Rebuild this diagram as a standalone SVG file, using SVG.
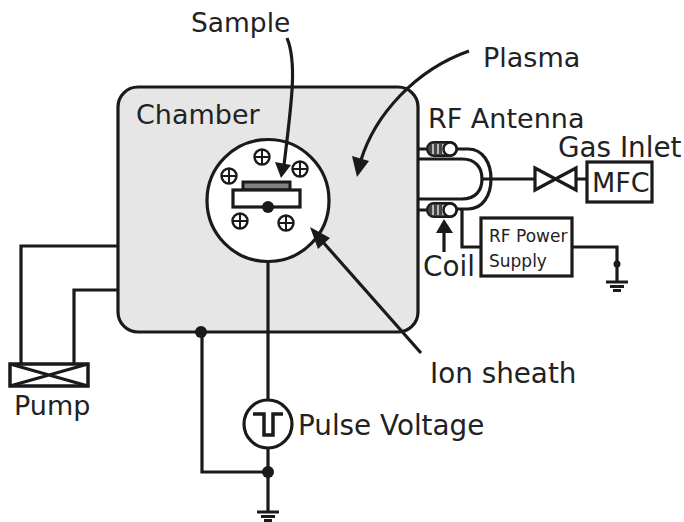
<svg xmlns="http://www.w3.org/2000/svg" width="684" height="522" viewBox="0 0 684 522">
<style>
.t{font-family:"DejaVu Sans",sans-serif;font-size:27px;fill:#222}
.w{font-size:27.800px}
.s{font-family:"DejaVu Sans",sans-serif;font-size:17px;fill:#222}
.l{fill:none;stroke:#1a1a1a;stroke-width:3.200}
.b{fill:#fff;stroke:#1a1a1a;stroke-width:3.200}
.f{fill:#1a1a1a;stroke:none}
.p{fill:#fff;stroke:#1a1a1a;stroke-width:2.400}
.c{fill:none;stroke:#1a1a1a;stroke-width:2}
</style>
<defs>
<g id="plus"><circle r="7.500" class="p"/><path d="M-7 0H7M0-7V7" class="c"/></g>
<g id="gnd"><path d="M-11 0H11" stroke="#1a1a1a" stroke-width="3"/><path d="M-7 4.500H7" stroke="#1a1a1a" stroke-width="3"/><path d="M-4 8.500H4" stroke="#1a1a1a" stroke-width="3"/></g>
</defs>
<g id="chamber"><rect x="118" y="87" width="300" height="245" rx="20" fill="#e6e6e6" stroke="#1a1a1a" stroke-width="3.200"/>
<text class="t" x="136" y="124">Chamber</text></g>
<g id="connectors">
<path class="l" d="M118 246H21V364M118 290H74V364"/>
<path class="l" d="M268 207V403M268 448V512M202 332V472H268"/>
<circle class="f" cx="201" cy="332" r="6"/><circle class="f" cx="268" cy="472" r="6"/>
<path class="l" d="M418 149H427M418 210H427"/>
<path class="l" d="M457 149H468C483 149 491 163 491 179C491 195 483 209 468 209H457"/>
<path class="l" d="M418 159H462C476 159 482 168 482 179C482 190 476 199 462 199H418"/>
<path class="l" d="M482 179H535M576 179H587"/>
<path class="l" d="M462 209V247H481M572 247H617V282"/>
<circle class="f" cx="617" cy="264" r="3.500"/>
<path d="M444 252V230" stroke="#1a1a1a" stroke-width="3.200"/>
<path class="f" d="M444 219L453 233H436Z"/>
</g>
<g id="gnd1"><use href="#gnd" x="268" y="512"/></g>
<g id="gnd2"><use href="#gnd" x="617" y="282"/></g>
<g id="pump"><rect x="10" y="364" width="78" height="22" fill="#fff" stroke="#1a1a1a" stroke-width="3.500"/><path class="l" d="M10 364L88 386M10 386L88 364"/>
<text class="t" x="14" y="415">Pump</text></g>
<g id="sheath"><circle cx="268" cy="200.500" r="61" class="b"/>
<use href="#plus" x="262" y="157"/><use href="#plus" x="300" y="169"/><use href="#plus" x="229" y="176"/><use href="#plus" x="240" y="221"/><use href="#plus" x="286" y="223"/>
<rect x="243" y="182" width="47" height="8" fill="#808080" stroke="#1a1a1a" stroke-width="3"/>
<rect x="233" y="190" width="67" height="17" class="b"/>
<circle class="f" cx="268" cy="207" r="6"/></g>
<g id="sample"><text class="t" x="191" y="32" style="font-size:26.500px">Sample</text>
<path class="l" d="M287 38C297 62 292 100 284 165"/><path class="f" d="M281 178L275 162L291 165Z"/></g>
<g id="plasma"><text class="t" x="483" y="67">Plasma</text>
<path class="l" d="M469 51C415 70 375 115 361 160"/><path class="f" d="M357 177L352 156L369 161Z"/></g>
<g id="ionsheath"><text class="t w" x="430" y="383">Ion sheath</text>
<path class="l" d="M421 353L322 241"/><path class="f" d="M310 227L330 238L318 249Z"/></g>
<g id="pulse"><circle cx="268" cy="424" r="24" class="b"/><path d="M253 414H264V435H273V414H283" fill="none" stroke="#1a1a1a" stroke-width="3.500"/>
<text class="t w" x="298" y="435">Pulse Voltage</text></g>
<g id="coil1"><rect x="427" y="142" width="30" height="14" rx="7" fill="#444" stroke="#1a1a1a" stroke-width="2"/><path d="M433 144V154M438 144V154M443 144V154" stroke="#ddd" stroke-width="1.500"/><circle cx="450" cy="149" r="6.500" class="p"/></g>
<g id="coil2"><rect x="427" y="203" width="30" height="14" rx="7" fill="#444" stroke="#1a1a1a" stroke-width="2"/><path d="M433 205V215M438 205V215M443 205V215" stroke="#ddd" stroke-width="1.500"/><circle cx="450" cy="210" r="6.500" class="p"/></g>
<g id="antenna"><text class="t" x="428" y="128">RF Antenna</text><text class="t w" x="423" y="276">Coil</text></g>
<g id="valve"><path class="l" d="M535 168L576 190V168L535 190Z"/></g>
<g id="mfc"><rect x="587" y="162" width="65" height="40" class="b"/><text class="t" x="592" y="192">MFC</text><text class="t w" x="558" y="157">Gas Inlet</text></g>
<g id="rf"><rect x="481" y="218" width="91" height="58" class="b"/><text class="s" x="489" y="242">RF Power</text><text class="s" x="489" y="267">Supply</text></g>
</svg>
